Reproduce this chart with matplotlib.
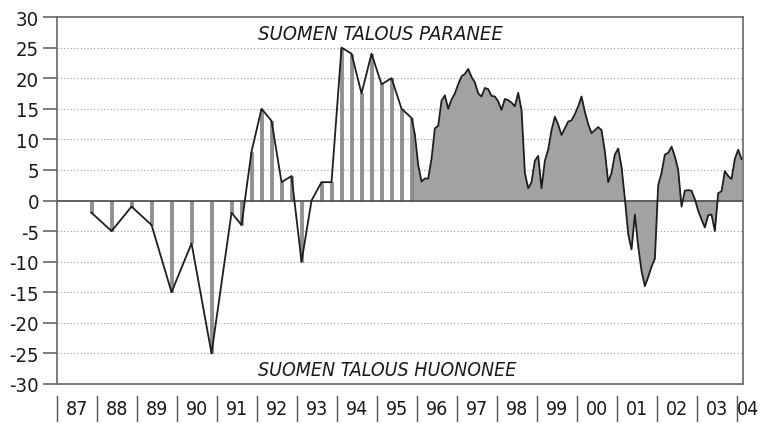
import numpy as np
import pandas as pd
import matplotlib
matplotlib.use("Agg")
import matplotlib.pyplot as plt
import matplotlib.transforms as mtransforms
from matplotlib import font_manager as fm

plt.rcParams['axes.unicode_minus'] = False


def pick_font():
    # prefer a narrow / condensed sans if one is installed
    for fam, stretch in [('Liberation Sans Narrow', 'normal'),
                         ('DejaVu Sans', 'condensed'),
                         ('Roboto', 'normal')]:
        try:
            path = fm.findfont(fm.FontProperties(family=fam, stretch=stretch),
                               fallback_to_default=False)
        except Exception:
            continue
        name = path.lower()
        if fam == 'Liberation Sans Narrow' and 'narrow' not in name:
            continue
        if stretch == 'condensed' and 'condensed' not in name:
            continue
        return fam, stretch
    return 'DejaVu Sans', 'normal'


FAM, STRETCH = pick_font()
FONT = [FAM, 'DejaVu Sans']

# --- data -------------------------------------------------------------------
sparse_dates = ['1987-11', '1988-05', '1988-11', '1989-05', '1989-11', '1990-05',
                '1990-11', '1991-05', '1991-08', '1991-11', '1992-02', '1992-05',
                '1992-08', '1992-11', '1993-02', '1993-05', '1993-08', '1993-11',
                '1994-02', '1994-05', '1994-08', '1994-11', '1995-02', '1995-05',
                '1995-08', '1995-11']
sparse_values = [-2, -5, -1, -4, -15, -7, -25, -2, -4, 8, 15, 13, 3, 4, -10, 0, 3, 3,
                 25, 24, 17.5, 24, 19, 20, 15, 13.5]

monthly_start = '1995-12'
monthly_values = [
    10.8,
    5.8, 3.1, 3.6, 3.6, 6.8, 11.8, 12.2, 16.3, 17.2, 15.0, 16.5, 17.5,      # 1996
    19.0, 20.3, 20.7, 21.5, 20.2, 19.3, 17.5, 17.0, 18.4, 18.2, 17.1, 17.0,  # 1997
    16.2, 14.8, 16.6, 16.4, 16.0, 15.4, 17.6, 14.8, 4.5, 2.0, 3.0, 6.5,      # 1998
    7.3, 2.0, 6.5, 8.3, 11.5, 13.7, 12.4, 10.7, 11.8, 12.9, 13.1, 14.1,      # 1999
    15.4, 17.0, 14.5, 12.5, 11.0, 11.5, 12.0, 11.5, 8.0, 3.0, 4.5, 7.5,      # 2000
    8.5, 5.5, 0.3, -5.5, -8.0, -2.3, -7.5, -11.5, -14.0, -12.5, -10.8, -9.5, # 2001
    2.5, 4.5, 7.5, 7.8, 8.8, 7.2, 5.0, -1.0, 1.6, 1.7, 1.6, 0.2,            # 2002
    -1.7, -3.1, -4.4, -2.4, -2.3, -5.0, 1.2, 1.5, 4.8, 4.0, 3.5, 6.8,       # 2003
    8.3, 6.8,                                                               # 2004
]

year_labels = ['87', '88', '89', '90', '91', '92', '93', '94', '95', '96', '97',
               '98', '99', '00', '01', '02', '03', '04']
first_year = 1987
y_ticks = [-30, -25, -20, -15, -10, -5, 0, 5, 10, 15, 20, 25, 30]
title_up = 'SUOMEN TALOUS PARANEE'
title_down = 'SUOMEN TALOUS HUONONEE'


def to_dec(periods):
    p = pd.PeriodIndex(periods, freq='M')
    return np.asarray(p.year + (p.month - 1) / 12.0 + 0.03, dtype=float)


sparse_t = to_dec(sparse_dates)
monthly_t = to_dec(pd.period_range(monthly_start, periods=len(monthly_values), freq='M').astype(str))
sparse_v = np.array(sparse_values, dtype=float)
monthly_v = np.array(monthly_values, dtype=float)

all_t = np.concatenate([sparse_t, monthly_t])
all_v = np.concatenate([sparse_v, monthly_v])

# --- figure -----------------------------------------------------------------
W, H = 761, 427
fig = plt.figure(figsize=(W / 100, H / 100), dpi=100)
fig.patch.set_facecolor('white')
ax = fig.add_axes([57 / W, 1 - 385 / H, 686 / W, 367 / H])
ax.set_xlim(first_year, first_year + 686 / 40.0)
ax.set_ylim(-30, 30)

# grid
for yv in y_ticks:
    if yv in (-30, 0, 30):
        continue
    ax.axhline(yv, color='#a0a0a0', lw=0.8, ls=(0, (1, 2)), zorder=0)

# dense region fill (from last sparse point onward)
fill_t = np.concatenate([sparse_t[-1:], monthly_t])
fill_v = np.concatenate([sparse_v[-1:], monthly_v])
ax.fill_between(fill_t, fill_v, 0, color='#a2a2a2', lw=0, zorder=1)

# sparse bars
ax.bar(sparse_t, sparse_v, width=0.075, color='#909090', edgecolor='#707070',
       lw=0.4, zorder=2)

ax.axhline(0, color='#555555', lw=1.3, zorder=3)
ax.plot(all_t, all_v, color='#1e1e1e', lw=1.3, zorder=4)

for s in ax.spines.values():
    s.set_color('#666666')
    s.set_linewidth(1.2)

tick_kw = dict(fontfamily=FONT, fontstretch=STRETCH)
ax.set_xticks([])
ax.set_yticks(y_ticks)
ax.set_yticklabels([str(v) for v in y_ticks], fontsize=14.5, **tick_kw)
ax.tick_params(axis='y', length=10, width=1.2, color='#666666', pad=3,
               labelcolor='#1a1a1a')

ax.text(0.471, 0.955, title_up, transform=ax.transAxes, ha='center', va='center',
        fontsize=14.5, style='italic', color='#1a1a1a', **tick_kw)
ax.text(0.481, 0.04, title_down, transform=ax.transAxes, ha='center', va='center',
        fontsize=14, style='italic', color='#1a1a1a', **tick_kw)

trans = mtransforms.blended_transform_factory(ax.transData, ax.transAxes)
fig_trans = mtransforms.blended_transform_factory(fig.transFigure, ax.transAxes)
label_y = -(410 - 385) / 367
for k, lab in enumerate(year_labels):
    x0 = first_year + k
    ax.plot([x0, x0], [-(397 - 385) / 367, -(422 - 385) / 367], transform=trans,
            color='#555555', lw=1.0, clip_on=False)
    if k == len(year_labels) - 1:
        # last label sits right at the figure's edge
        ax.text(759.5 / W, label_y, lab, transform=fig_trans, ha='right',
                va='center', fontsize=14, color='#1a1a1a', clip_on=False, **tick_kw)
    else:
        ax.text(x0 + 0.5, label_y, lab, transform=trans, ha='center',
                va='center', fontsize=14, color='#1a1a1a', clip_on=False, **tick_kw)

fig.savefig('out.png', dpi=100, facecolor='white')
